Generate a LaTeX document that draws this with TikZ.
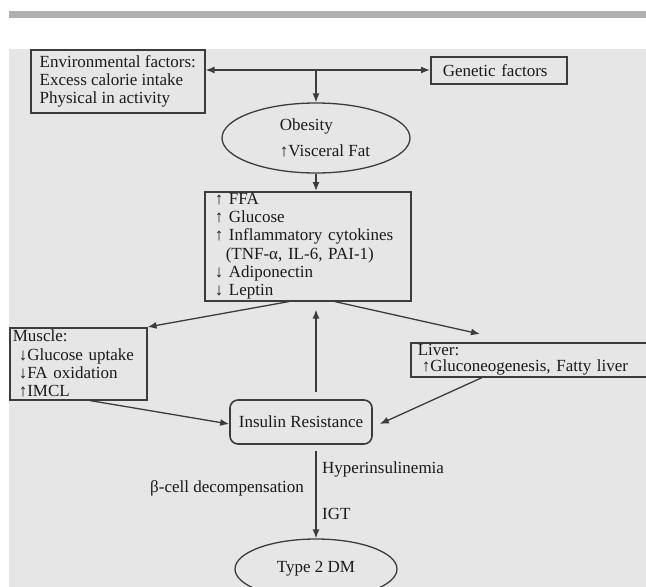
\documentclass[tikz,border=0pt]{standalone}
\usepackage{fontspec}
\setmainfont{Liberation Serif}
\usetikzlibrary{arrows.meta,shapes.geometric,calc}
\definecolor{pagegray}{HTML}{E6E6E6}
\definecolor{bargray}{HTML}{B0B0B0}
\definecolor{ink}{HTML}{1A1A1A}
\definecolor{edge}{HTML}{3C3C3C}
\begin{document}
\begin{tikzpicture}[x=1pt,y=-1pt,
  every node/.style={font=\fontsize{17}{18.3}\selectfont, text=ink},
  box/.style={draw=edge, line width=1.6pt, rectangle, inner ysep=0pt,
              anchor=north west, align=left},
  oval/.style={draw=edge, line width=1.3pt, ellipse, inner sep=0pt},
  link/.style={draw=edge, line width=1.3pt, -{Latex[length=9pt,width=7pt]}},
  lbl/.style={inner sep=0pt, anchor=base west}]
\useasboundingbox (0,0) rectangle (646,587);
\clip (0,0) rectangle (646,587);
% page frame
\fill[bargray] (9,11) rectangle (646,18);
\fill[pagegray] (9,49) rectangle (646,587);

% causes
\node[box, inner xsep=0pt, minimum width=174pt, minimum height=63pt] (env) at (30,49)
  {Environmental factors:\\Excess calorie intake\\Physical in activity};
\node[box, text width=112pt, inner xsep=12pt, minimum height=27pt] (gen) at (430,56)
  {Genetic factors};

% obesity
\node[oval, minimum width=188pt, minimum height=70pt, align=left] (obes) at (316,138)
  {\hspace*{18pt}Obesity\\[8pt]\hspace*{18pt}↑Visceral Fat};

% circulating factors
\node[box, text width=186pt, inner xsep=10pt, minimum height=109pt] (eff) at (204,191)
  {↑ FFA\\↑ Glucose\\↑ Inflammatory cytokines\\\hspace*{11pt}(TNF-α, IL-6, PAI-1)\\↓ Adiponectin\\↓ Leptin};

% target organs
\node[box, text width=131pt, inner xsep=3pt, minimum height=72pt] (mus) at (9,327)
  {Muscle:\\\hspace*{6pt}↓Glucose uptake\\\hspace*{6pt}↓FA oxidation\\\hspace*{6pt}↑IMCL};
\node[box, text width=236pt, inner xsep=7pt, minimum height=34pt,
      font=\fontsize{17}{16}\selectfont] (liv) at (410,342)
  {Liver:\\\hspace*{4pt}↑Gluconeogenesis, Fatty liver};

% outcome
\node[draw=edge, line width=1.6pt, rounded corners=8pt, minimum width=142pt,
      minimum height=44pt, inner sep=0pt] (ir) at (301,422) {Insulin Resistance};
\node[oval, minimum width=162pt, minimum height=60pt] (dm) at (316,569) {Type 2 DM};

% connectors
\coordinate (fork) at (316,70);
\draw[link] (fork) -- (env.east |- fork);
\draw[link] (fork) -- (gen.west |- fork);
\draw[link] (fork) -- (obes.north);
\draw[link] (obes.south) -- (obes.south |- eff.north);
\draw[link] ([xshift=-19pt]eff.south) -- (mus.north east);
\draw[link] ([xshift=27pt]eff.south) -- ([shift={(70,-8)}]liv.north west);
\draw[link, shorten <=7pt, shorten >=8pt] (obes.south |- ir.north) -- (obes.south |- eff.south);
\draw[link] ([xshift=12pt]mus.south) -- ([yshift=-2pt]ir.west);
\draw[link] ([xshift=72pt]liv.south west) -- ([shift={(7,2)}]ir.east);
\draw[link, shorten <=6pt] (obes.south |- ir.south) -- (dm.north);

% labels on the path to diabetes
\node[lbl] (hyp) at (322,473) {Hyperinsulinemia};
\node[lbl, anchor=base east] (beta) at (304,492) {β-cell decompensation};
\node[lbl] (igt) at (322,519) {IGT};
\end{tikzpicture}
\end{document}
